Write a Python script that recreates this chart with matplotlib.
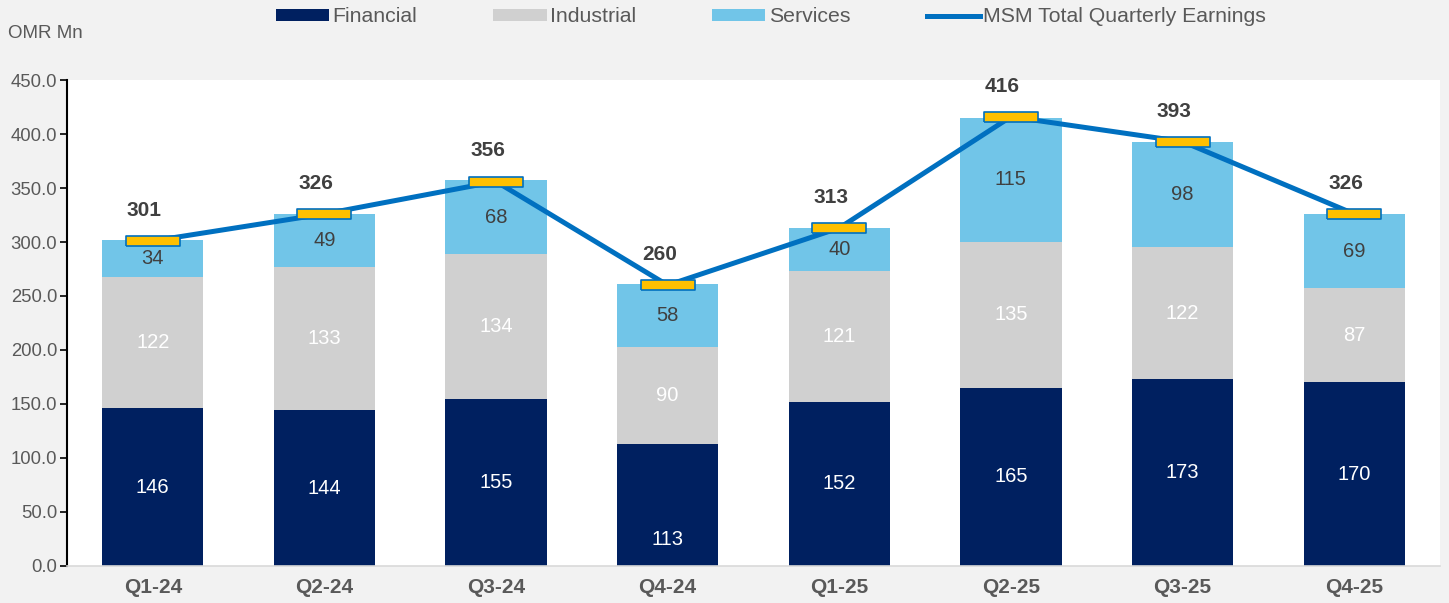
import numpy as np
import matplotlib.pyplot as plt

quarters = ["Q1-24", "Q2-24", "Q3-24", "Q4-24", "Q1-25", "Q2-25", "Q3-25", "Q4-25"]
financial = [146, 144, 155, 113, 152, 165, 173, 170]
industrial = [122, 133, 134, 90, 121, 135, 122, 87]
services = [34, 49, 68, 58, 40, 115, 98, 69]
totals = [301, 326, 356, 260, 313, 416, 393, 326]

c_fin = "#002060"
c_ind = "#d0d0d0"
c_srv = "#71c5e8"
c_line = "#0070c0"
c_text = "#595959"

plt.rcParams["font.family"] = ["Liberation Sans", "DejaVu Sans"]

fig = plt.figure(figsize=(14.49, 6.03), dpi=100, facecolor="#f2f2f2")
ax = fig.add_axes([0.0462, 0.0614, 0.9476, 0.8059])
ax.set_facecolor("white")

x = np.arange(len(quarters))
w = 0.59
fin = np.array(financial)
ind = np.array(industrial)
srv = np.array(services)

ax.bar(x, fin, w, color=c_fin, label="Financial")
ax.bar(x, ind, w, bottom=fin, color=c_ind, label="Industrial")
ax.bar(x, srv, w, bottom=fin + ind, color=c_srv, label="Services")

# segment labels (the short Q4-24 financial label sits low in the original)
for i in range(len(x)):
    yf = fin[i] / 2 if fin[i] > 120 else fin[i] * 0.22
    ax.text(x[i], yf, str(fin[i]), ha="center", va="center", color="white", fontsize=14.5)
    ax.text(x[i], fin[i] + ind[i] / 2, str(ind[i]), ha="center", va="center", color="white", fontsize=14.5)
    ax.text(x[i], fin[i] + ind[i] + srv[i] / 2, str(srv[i]), ha="center", va="center",
            color="#404040", fontsize=14.5)

# total line with flat rectangle markers
rect = [(-1, -0.19), (1, -0.19), (1, 0.19), (-1, 0.19), (-1, -0.19)]
ax.plot(x, totals, color=c_line, lw=3.6, label="MSM Total Quarterly Earnings", zorder=3)
ax.plot(x, totals, ls="none", marker=rect, markersize=39, markerfacecolor="#ffc000",
        markeredgecolor=c_line, markeredgewidth=1.2, zorder=4)
for i, t in enumerate(totals):
    ax.annotate(str(t), (x[i], t), xytext=(-6, 22), textcoords="offset points",
                ha="center", va="center", fontsize=15, fontweight="bold", color="#404040")

ax.set_xlim(-0.5, len(x) - 0.5)
ax.set_ylim(0, 450)
ax.set_yticks(np.arange(0, 451, 50))
ax.set_yticklabels([f"{v:.1f}" for v in np.arange(0, 451, 50)])
ax.set_xticks(x)
ax.set_xticklabels(quarters, fontsize=15, fontweight="bold", color=c_text)
ax.tick_params(axis="y", labelsize=13.3, labelcolor=c_text, color="black", length=5, width=1.2, pad=2)
ax.tick_params(axis="x", length=0, pad=9)

for s in ["top", "right"]:
    ax.spines[s].set_visible(False)
ax.spines["left"].set_color("black")
ax.spines["left"].set_linewidth(1.5)
ax.spines["bottom"].set_color("#d9d9d9")
ax.spines["bottom"].set_linewidth(1.2)

fig.text(0.0055, 0.945, "OMR Mn", fontsize=13.5, color=c_text, ha="left", va="center")

h, l = ax.get_legend_handles_labels()
order = [1, 2, 3, 0]
leg = fig.legend([h[k] for k in order], [l[k] for k in order], loc="center", bbox_to_anchor=(0.532, 0.972),
                 ncol=4, frameon=False, fontsize=15.3, handlelength=2.5, handleheight=0.5,
                 columnspacing=3.6, handletextpad=0.15)
for t in leg.get_texts():
    t.set_color(c_text)

fig.savefig("out.png", dpi=100, facecolor=fig.get_facecolor())
